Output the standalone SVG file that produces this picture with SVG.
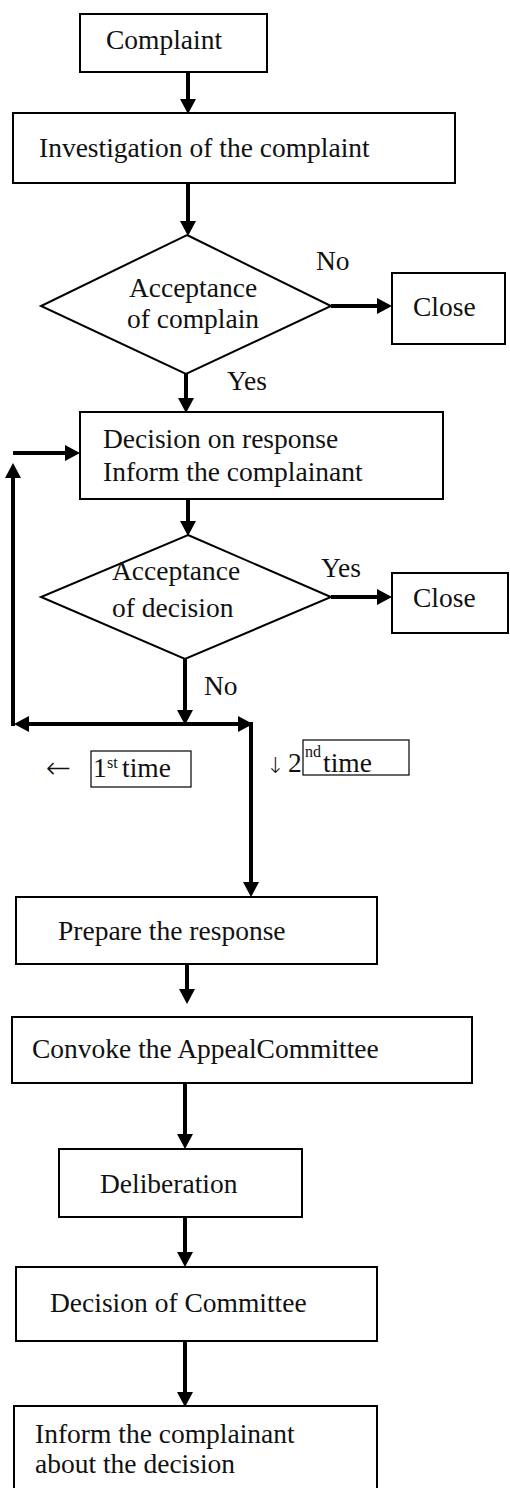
<svg xmlns="http://www.w3.org/2000/svg" width="510" height="1488" viewBox="0 0 510 1488">
<style>
.box{fill:#fff;stroke:#000;stroke-width:2}
.dia{fill:#fff;stroke:#000;stroke-width:2}
.lbl{fill:#fff;stroke:#000;stroke-width:1.2}
.t{font-family:"Liberation Serif","Times New Roman",serif;font-size:27.5px;fill:#111}
.s{font-family:"Liberation Serif","Times New Roman",serif;font-size:16px;fill:#111}
.a{font-family:"DejaVu Sans",sans-serif;font-weight:200;fill:#111}
.c{fill:none;stroke:#000;stroke-width:4}
</style>
<defs>
<marker id="ah" markerUnits="userSpaceOnUse" markerWidth="16" markerHeight="16" refX="1" refY="8" orient="auto">
<path d="M0,0 L15,8 L0,16 z" fill="#000"/>
</marker>
</defs>
<rect width="510" height="1488" fill="#fff"/>
<g id="connectors">
<line class="c" x1="188" y1="72" x2="188" y2="100" marker-end="url(#ah)"/>
<line class="c" x1="188" y1="183" x2="188" y2="222" marker-end="url(#ah)"/>
<line class="c" x1="331" y1="306" x2="378" y2="306" marker-end="url(#ah)"/>
<line class="c" x1="186" y1="374" x2="186" y2="399" marker-end="url(#ah)"/>
<line class="c" x1="188" y1="499" x2="188" y2="522" marker-end="url(#ah)"/>
<line class="c" x1="331" y1="597" x2="378" y2="597" marker-end="url(#ah)"/>
<line class="c" x1="185" y1="659" x2="185" y2="711" marker-end="url(#ah)"/>
<line class="c" x1="185" y1="724" x2="28" y2="724" marker-end="url(#ah)"/>
<line class="c" x1="185" y1="724" x2="239" y2="724" marker-end="url(#ah)"/>
<line class="c" x1="251" y1="722" x2="251" y2="883" marker-end="url(#ah)"/>
<line class="c" x1="13" y1="726" x2="13" y2="477" marker-end="url(#ah)"/>
<line class="c" x1="13" y1="453" x2="66" y2="453" marker-end="url(#ah)"/>
<line class="c" x1="187" y1="964" x2="187" y2="990" marker-end="url(#ah)"/>
<line class="c" x1="185" y1="1083" x2="185" y2="1135" marker-end="url(#ah)"/>
<line class="c" x1="185" y1="1217" x2="185" y2="1253" marker-end="url(#ah)"/>
<line class="c" x1="185" y1="1341" x2="185" y2="1393" marker-end="url(#ah)"/>
</g>
<g id="complaint">
<rect class="box" x="80" y="14" width="187" height="58"/>
<text class="t" x="106" y="49">Complaint</text>
</g>
<g id="investigation">
<rect class="box" x="13" y="113" width="442" height="70"/>
<text class="t" x="39" y="157">Investigation of the complaint</text>
</g>
<g id="acceptance1">
<polygon class="dia" points="187,235 331,306 186,374 41,306"/>
<text class="t" x="193" y="297" text-anchor="middle">Acceptance</text>
<text class="t" x="193" y="328" text-anchor="middle">of complain</text>
</g>
<g id="close1">
<rect class="box" x="392" y="273" width="113" height="71"/>
<text class="t" x="413" y="316">Close</text>
</g>
<g id="decision">
<rect class="box" x="80" y="412" width="363" height="87"/>
<text class="t" x="103" y="448">Decision on response</text>
<text class="t" x="103" y="481">Inform the complainant</text>
</g>
<g id="acceptance2">
<polygon class="dia" points="188,535 331,597 185,659 41,597"/>
<text class="t" x="112" y="580">Acceptance</text>
<text class="t" x="112" y="617">of decision</text>
</g>
<g id="close2">
<rect class="box" x="392" y="573" width="116" height="60"/>
<text class="t" x="413" y="607">Close</text>
</g>
<g id="labels">
<text class="t" x="316" y="270">No</text>
<text class="t" x="227" y="390">Yes</text>
<text class="t" x="321" y="577">Yes</text>
<text class="t" x="204" y="695">No</text>
</g>
<g id="first-time">
<text class="a" x="46" y="778" style="font-size:30px">←</text>
<rect class="lbl" x="91" y="751" width="100" height="36"/>
<text class="t" x="93" y="777">1</text>
<text class="s" x="107" y="768">st</text>
<text class="t" x="122" y="777">time</text>
</g>
<g id="second-time">
<text class="a" x="266" y="773" style="font-size:22px">↓</text>
<text class="t" x="288" y="772">2</text>
<rect class="lbl" x="303" y="740" width="106" height="35"/>
<text class="s" x="305" y="757">nd</text>
<text class="t" x="323" y="772">time</text>
</g>
<g id="prepare">
<rect class="box" x="16" y="897" width="361" height="67"/>
<text class="t" x="58" y="940">Prepare the response</text>
</g>
<g id="convoke">
<rect class="box" x="12" y="1017" width="460" height="66"/>
<text class="t" x="32" y="1058">Convoke the AppealCommittee</text>
</g>
<g id="deliberation">
<rect class="box" x="59" y="1149" width="243" height="68"/>
<text class="t" x="100" y="1193">Deliberation</text>
</g>
<g id="committee-decision">
<rect class="box" x="16" y="1267" width="361" height="74"/>
<text class="t" x="50" y="1312">Decision of Committee</text>
</g>
<g id="inform">
<rect class="box" x="14" y="1406" width="363" height="90"/>
<text class="t" x="35" y="1443">Inform the complainant</text>
<text class="t" x="35" y="1473">about the decision</text>
</g>
</svg>
